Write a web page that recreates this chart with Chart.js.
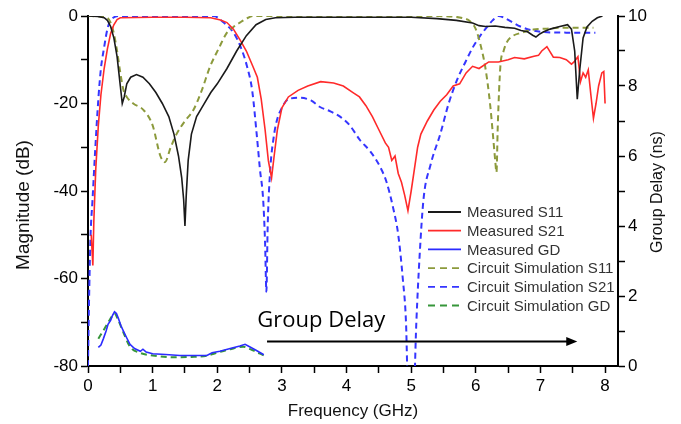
<!DOCTYPE html>
<html>
<head>
<meta charset="utf-8">
<script src="https://cdn.jsdelivr.net/npm/chart.js@4.4.0/dist/chart.umd.min.js"></script>
<style>
html,body{margin:0;padding:0;background:#fff;}
#wrap{width:681px;height:424px;}
</style>
</head>
<body>
<div id="wrap"><canvas id="chart" width="681" height="424"></canvas></div>
<script>
// values (GHz / dB / ns)
const s11MeasFreq = [0, 0.15, 0.25, 0.3, 0.35, 0.4, 0.45, 0.5, 0.53, 0.56, 0.6, 0.66, 0.75, 0.85, 0.95, 1.05, 1.15, 1.25, 1.33, 1.4, 1.45, 1.48, 1.5, 1.52, 1.55, 1.6, 1.68, 1.78, 1.9, 2.0, 2.15, 2.3, 2.45, 2.6, 2.75, 2.9, 3.2, 4.0, 5.0, 5.4, 5.7, 5.95, 6.05, 6.15, 6.3, 6.45, 6.6, 6.7, 6.8, 6.88, 6.93, 6.98, 7.05, 7.15, 7.3, 7.42, 7.48, 7.53, 7.57, 7.61, 7.66, 7.72, 7.8, 7.88, 7.96];
const s11MeasMag  = [0, -0.1, -0.4, -1, -2.4, -5, -9.3, -16, -20, -18.5, -15.5, -14, -13.4, -14, -15.5, -17.5, -20, -23, -27, -32, -37, -42, -48, -41, -33, -27, -23, -20.5, -17.5, -15.5, -12, -8, -4.5, -2, -0.8, -0.4, -0.3, -0.3, -0.3, -0.6, -1, -1.6, -2.2, -2.4, -2.3, -2.6, -2.8, -3.3, -3.6, -4.4, -4.8, -4.2, -3.6, -3, -2.4, -2, -3, -8, -19, -12, -5, -2.5, -1.2, -0.4, 0];

const s21MeasFreq = [0.05, 0.075, 0.09, 0.12, 0.16, 0.2, 0.25, 0.3, 0.35, 0.4, 0.45, 0.5, 1.0, 1.5, 1.9, 2.05, 2.15, 2.25, 2.35, 2.45, 2.55, 2.62, 2.68, 2.74, 2.79, 2.84, 2.88, 2.93, 3.0, 3.1, 3.25, 3.4, 3.6, 3.8, 3.95, 4.1, 4.2, 4.3, 4.4, 4.5, 4.6, 4.65, 4.7, 4.75, 4.8, 4.85, 4.9, 4.95, 5.0, 5.05, 5.1, 5.15, 5.25, 5.35, 5.45, 5.55, 5.65, 5.75, 5.85, 5.95, 6.05, 6.2, 6.35, 6.5, 6.6, 6.75, 6.9, 6.97, 7.02, 7.1, 7.2, 7.3, 7.4, 7.48, 7.52, 7.58, 7.62, 7.66, 7.7, 7.74, 7.78, 7.82, 7.86, 7.9, 7.95, 7.98, 8.0];
const s21MeasMag  = [-50, -57, -47, -35, -25, -18, -12, -7.5, -4, -2, -0.8, -0.4, -0.3, -0.3, -0.4, -0.9, -1.5, -3, -5.4, -8, -11.5, -14, -19, -26, -33, -37, -32, -26, -21, -18.5, -17, -16, -15, -15.3, -16, -17.5, -18.5, -20.5, -23, -26, -29, -30, -33, -32, -36, -38, -41, -44.5, -40, -35, -30, -27, -24, -21.5, -19.5, -18, -16, -15.5, -13, -11.5, -12, -10.5, -10.5, -10, -9.5, -9.8, -9.2, -9, -8, -7, -9.4, -9.5, -10, -11, -10.5, -9.3, -15, -13, -14, -12.3, -18, -23.4, -20, -16, -13, -12.7, -20];

const gdMeasFreq = [0.16, 0.2, 0.24, 0.28, 0.31, 0.35, 0.38, 0.41, 0.44, 0.47, 0.51, 0.55, 0.6, 0.65, 0.72, 0.81, 0.85, 0.9, 1.0, 1.2, 1.42, 1.6, 1.84, 1.92, 2.04, 2.2, 2.35, 2.43, 2.5, 2.6, 2.72];
const gdMeasNs   = [0.53, 0.6, 0.79, 1.0, 1.19, 1.3, 1.45, 1.55, 1.5, 1.36, 1.15, 0.99, 0.8, 0.62, 0.5, 0.42, 0.48, 0.4, 0.35, 0.33, 0.3, 0.3, 0.3, 0.38, 0.42, 0.5, 0.57, 0.62, 0.55, 0.45, 0.32];

const s11SimFreq = [0, 0.2, 0.3, 0.35, 0.4, 0.45, 0.5, 0.55, 0.6, 0.7, 0.86, 1.0, 1.12, 1.19, 1.28, 1.37, 1.5, 1.63, 1.76, 1.89, 2.02, 2.15, 2.25, 2.35, 2.45, 2.56, 3.0, 4.0, 5.0, 5.6, 5.8, 5.91, 6.0, 6.08, 6.15, 6.22, 6.27, 6.3, 6.32, 6.34, 6.38, 6.43, 6.48, 6.58, 6.69, 6.89, 7.1, 7.3, 7.6, 7.82];
const s11SimMag  = [0, -0.1, -0.4, -1.5, -4, -8, -13, -17, -18.5, -20, -21.5, -25, -32, -33.4, -30, -27, -24, -21.5, -17, -11.5, -7.5, -3.8, -2.5, -1.5, -0.6, 0, 0, 0, 0, -0.1, -0.5, -1.2, -3, -7, -12, -20, -28, -33, -35.7, -25, -11.5, -8, -6, -4.5, -3.9, -3.1, -2.9, -2.7, -2.7, -2.7];

const s21SimFreq = [0, 0.02, 0.04, 0.07, 0.11, 0.16, 0.2, 0.24, 0.31, 0.39, 0.5, 1.0, 1.94, 2.1, 2.25, 2.36, 2.46, 2.54, 2.61, 2.66, 2.71, 2.74, 2.76, 2.78, 2.82, 2.87, 2.92, 3.0, 3.1, 3.28, 3.45, 3.59, 3.75, 3.9, 4.05, 4.21, 4.37, 4.52, 4.62, 4.72, 4.8, 4.87, 4.92, 4.96, 5.03, 5.08, 5.13, 5.19, 5.3, 5.45, 5.58, 5.71, 5.84, 5.96, 6.07, 6.18, 6.26, 6.35, 6.45, 6.55, 6.69, 6.85, 7.0, 7.4, 7.85];
const s21SimMag  = [-80, -62, -50, -42, -31, -19, -12, -8, -2.4, -0.4, 0, 0, 0, -1.5, -3.8, -7, -11.5, -17, -27, -35, -42, -52, -63, -48, -35, -28, -24, -21, -19, -18.7, -19.3, -20.8, -21.8, -23, -25, -28.4, -31, -34.5, -38, -43.8, -50, -60, -70, -90, -90, -70, -55, -42, -34, -27, -20, -14.6, -10.5, -7, -4.5, -2.4, -1, 0, -0.5, -1.3, -2.4, -3.2, -3.6, -3.8, -3.8];

const gdSimFreq = [0.16, 0.25, 0.33, 0.41, 0.47, 0.55, 0.65, 0.8, 1.0, 1.3, 1.6, 1.85, 2.0, 2.2, 2.4, 2.55, 2.72];
const gdSimNs   = [0.78, 1.05, 1.3, 1.5, 1.3, 0.95, 0.55, 0.38, 0.3, 0.25, 0.26, 0.3, 0.38, 0.48, 0.55, 0.45, 0.3];

const seriesNames = ['Measured S11', 'Measured S21', 'Measured GD', 'Circuit Simulation S11', 'Circuit Simulation S21', 'Circuit Simulation GD'];

// "Group Delay" arrow annotation, in data units
const arrowFrom = 2.77, arrowTo = 7.57, arrowLevel = -74.4;
const noteX = 2.62, noteY = -71.1;

function pts(xs, ys){ return xs.map((x,i)=>({x:x, y:ys[i]})); }

function line(label, xs, ys, color, dash, axis){
  return {
    label: label, data: pts(xs, ys), yAxisID: axis,
    borderColor: color, borderWidth: dash ? 2 : 1.6, borderDash: dash || [],
    pointRadius: 0, fill: false, tension: 0,
    cubicInterpolationMode: dash ? 'monotone' : 'default'
  };
}

const extras = {
  id: 'extras',
  afterDatasetsDraw(chart){
    const {ctx, scales:{x, y}} = chart;
    const x0 = x.getPixelForValue(arrowFrom), x1 = x.getPixelForValue(arrowTo);
    const ay = y.getPixelForValue(arrowLevel);
    ctx.save();
    ctx.strokeStyle = '#000'; ctx.fillStyle = '#000'; ctx.lineWidth = 2;
    ctx.beginPath(); ctx.moveTo(x0, ay); ctx.lineTo(x1 - 8, ay); ctx.stroke();
    ctx.beginPath(); ctx.moveTo(x1, ay); ctx.lineTo(x1 - 11, ay - 4.5); ctx.lineTo(x1 - 11, ay + 4.5); ctx.closePath(); ctx.fill();
    ctx.font = '22px "Open Sans"'; ctx.textBaseline = 'alphabetic'; ctx.textAlign = 'left';
    ctx.fillText('Group Delay', x.getPixelForValue(noteX), y.getPixelForValue(noteY));
    ctx.restore();
  },
  afterDraw(chart){
    const ctx = chart.ctx;
    ctx.save();
    // legend inside the plot
    chart.data.datasets.forEach((ds, i)=>{
      const ry = 212 + i*18.7;
      ctx.strokeStyle = ds.borderColor; ctx.lineWidth = 1.8;
      ctx.setLineDash(ds.borderDash.length ? [7,5] : []);
      ctx.beginPath(); ctx.moveTo(428, ry); ctx.lineTo(461, ry); ctx.stroke();
      ctx.setLineDash([]);
      ctx.fillStyle = '#333'; ctx.font = '15px Arial'; ctx.textBaseline = 'middle';
      ctx.fillText(ds.label, 467, ry + 1);
    });
    // y axis titles, both reading upward
    ctx.fillStyle = '#111'; ctx.textAlign = 'center'; ctx.textBaseline = 'middle';
    ctx.translate(24, 205); ctx.rotate(-Math.PI/2);
    ctx.font = '19px Arial'; ctx.fillText('Magnitude (dB)', 0, 0);
    ctx.setTransform(1,0,0,1,0,0);
    ctx.translate(658, 192); ctx.rotate(-Math.PI/2);
    ctx.font = '16px Arial'; ctx.fillText('Group Delay (ns)', 0, 0);
    ctx.restore();
  }
};

const axisFont = {family: 'Arial', size: 17};
const tickGrid = {drawOnChartArea: false, drawTicks: true, tickLength: 7, tickColor: '#000', tickWidth: 1.5};
const axisBorder = {display: true, color: '#000', width: 2};

new Chart(document.getElementById('chart').getContext('2d'), {
  type: 'line',
  data: {
    datasets: [
      line(seriesNames[0], s11MeasFreq, s11MeasMag, '#1a1a1a', null, 'y'),
      line(seriesNames[1], s21MeasFreq, s21MeasMag, '#ff2a2a', null, 'y'),
      line(seriesNames[2], gdMeasFreq, gdMeasNs, '#2b2bff', null, 'y2'),
      line(seriesNames[3], s11SimFreq, s11SimMag, '#8c9a3c', [6,4], 'y'),
      line(seriesNames[4], s21SimFreq, s21SimMag, '#3535ff', [6,4], 'y'),
      line(seriesNames[5], gdSimFreq, gdSimNs, '#36963a', [6,4], 'y2')
    ]
  },
  options: {
    responsive: false, animation: false,
    layout: {padding: {top: 16, left: 0, right: 0, bottom: 0}},
    plugins: {legend: {display: false}, tooltip: {enabled: false}},
    scales: {
      x: {
        type: 'linear', position: 'bottom', min: 0, max: 8.2,
        afterFit(s){ s.height = 58; },
        ticks: {stepSize: 0.5, includeBounds: false, autoSkip: false, maxRotation: 0, padding: 3,
                color: '#000', font: axisFont, callback: v => Number.isInteger(v) ? v : ''},
        grid: tickGrid, border: axisBorder,
        title: {display: true, text: 'Frequency (GHz)', color: '#111', font: axisFont, padding: {top: 0, bottom: 2}}
      },
      y: {
        type: 'linear', position: 'left', min: -80, max: 0,
        afterFit(s){ s.width = 88; },
        ticks: {stepSize: 10, autoSkip: false, padding: 3, color: '#000', font: axisFont,
                callback: v => v % 20 === 0 ? v : ''},
        grid: tickGrid, border: axisBorder
      },
      y2: {
        type: 'linear', position: 'right', min: 0, max: 10,
        afterFit(s){ s.width = 63; },
        ticks: {stepSize: 1, autoSkip: false, padding: 3, color: '#000', font: axisFont,
                callback: v => v % 2 === 0 ? v : ''},
        grid: tickGrid, border: axisBorder
      }
    }
  },
  plugins: [extras]
});
</script>
</body>
</html>
